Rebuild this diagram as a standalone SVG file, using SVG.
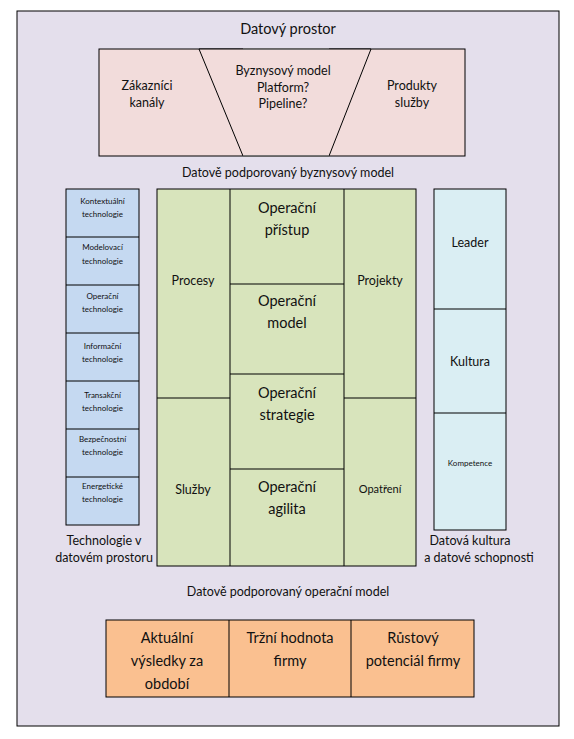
<svg xmlns="http://www.w3.org/2000/svg" width="574" height="739" viewBox="0 0 574 739">
<style>
text{font-family:"Lato","Open Sans","Liberation Sans",sans-serif;fill:#111;text-anchor:middle;dominant-baseline:central}
.b{stroke:#000;stroke-width:1}
.s{font-size:8px}
.m{font-size:12.5px}
.l{font-size:14.5px}
.pink{fill:#F2DCDB}
.blue{fill:#C5D9F1}
.green{fill:#D8E4BC}
.cyan{fill:#DAEEF3}
.orange{fill:#FAC090}
</style>
<rect x="0" y="0" width="574" height="739" fill="#fff"/>
<g id="frame">
<rect x="17" y="11" width="542" height="715" fill="#E4DFEC" class="b"/>
<text x="288" y="28" class="l">Datový prostor</text>
</g>
<g id="business-model">
<rect x="99" y="49" width="366" height="107" class="pink b"/>
<polygon points="199,49 371,49 329,156 243,156" class="pink b"/>
<line x1="243" y1="49" x2="329" y2="49" stroke="#777" stroke-width="1.5"/>
<line x1="243" y1="156" x2="329" y2="156" stroke="#777" stroke-width="1.5"/>
<text x="147" y="85" class="m">Zákazníci</text>
<text x="147" y="102" class="m">kanály</text>
<text x="283" y="70" class="m">Byznysový model</text>
<text x="283" y="87" class="m">Platform?</text>
<text x="283" y="103" class="m">Pipeline?</text>
<text x="412" y="85" class="m">Produkty</text>
<text x="412" y="102" class="m">služby</text>
<text x="288" y="172" class="m">Datově podporovaný byznysový model</text>
</g>
<g id="technologies">
<rect x="66" y="189" width="73" height="336" class="blue b"/>
<line x1="66" y1="237" x2="139" y2="237" class="b"/>
<line x1="66" y1="285" x2="139" y2="285" class="b"/>
<line x1="66" y1="333" x2="139" y2="333" class="b"/>
<line x1="66" y1="381" x2="139" y2="381" class="b"/>
<line x1="66" y1="429" x2="139" y2="429" class="b"/>
<line x1="66" y1="477" x2="139" y2="477" class="b"/>
<text x="102.5" y="201" class="s">Kontextuální</text>
<text x="102.5" y="214" class="s">technologie</text>
<text x="102.5" y="247" class="s">Modelovací</text>
<text x="102.5" y="261" class="s">technologie</text>
<text x="102.5" y="296" class="s">Operační</text>
<text x="102.5" y="309" class="s">technologie</text>
<text x="102.5" y="346" class="s">Informační</text>
<text x="102.5" y="359" class="s">technologie</text>
<text x="102.5" y="395" class="s">Transakční</text>
<text x="102.5" y="408" class="s">technologie</text>
<text x="102.5" y="439" class="s">Bezpečnostní</text>
<text x="102.5" y="452" class="s">technologie</text>
<text x="102.5" y="486" class="s">Energetické</text>
<text x="102.5" y="499" class="s">technologie</text>
<text x="104" y="540" class="m">Technologie v</text>
<text x="104" y="557" class="m">datovém prostoru</text>
</g>
<g id="operating-model">
<rect x="157" y="189" width="259" height="377" class="green b"/>
<line x1="230" y1="189" x2="230" y2="566" class="b"/>
<line x1="344" y1="189" x2="344" y2="566" class="b"/>
<line x1="157" y1="398" x2="230" y2="398" class="b"/>
<line x1="344" y1="398" x2="416" y2="398" class="b"/>
<line x1="230" y1="284" x2="344" y2="284" class="b"/>
<line x1="230" y1="374" x2="344" y2="374" class="b"/>
<line x1="230" y1="469" x2="344" y2="469" class="b"/>
<text x="193" y="280" class="m">Procesy</text>
<text x="380" y="280" class="m">Projekty</text>
<text x="193" y="489" class="m">Služby</text>
<text x="380" y="488" style="font-size:11px">Opatření</text>
<text x="287" y="207" class="l">Operační</text>
<text x="287" y="229" class="l">přístup</text>
<text x="287" y="300" class="l">Operační</text>
<text x="287" y="322" class="l">model</text>
<text x="287" y="392" class="l">Operační</text>
<text x="287" y="414" class="l">strategie</text>
<text x="287" y="486" class="l">Operační</text>
<text x="287" y="508" class="l">agilita</text>
<text x="288" y="591" class="m">Datově podporovaný operační model</text>
</g>
<g id="culture">
<rect x="434" y="189" width="72" height="341" class="cyan b"/>
<line x1="434" y1="309" x2="506" y2="309" class="b"/>
<line x1="434" y1="413" x2="506" y2="413" class="b"/>
<text x="470" y="242" class="m">Leader</text>
<text x="470" y="361" class="m">Kultura</text>
<text x="470" y="463" class="s">Kompetence</text>
<text x="470" y="540" class="m">Datová kultura</text>
<text x="479" y="557" class="m">a datové schopnosti</text>
</g>
<g id="results">
<rect x="106" y="620" width="368" height="77" class="orange b"/>
<line x1="229" y1="620" x2="229" y2="697" class="b"/>
<line x1="351" y1="620" x2="351" y2="697" class="b"/>
<text x="167" y="637" class="l">Aktuální</text>
<text x="167" y="660" class="l">výsledky za</text>
<text x="167" y="683" class="l">období</text>
<text x="290" y="637" class="l">Tržní hodnota</text>
<text x="290" y="660" class="l">firmy</text>
<text x="413" y="637" class="l">Růstový</text>
<text x="413" y="660" class="l">potenciál firmy</text>
</g>
</svg>
